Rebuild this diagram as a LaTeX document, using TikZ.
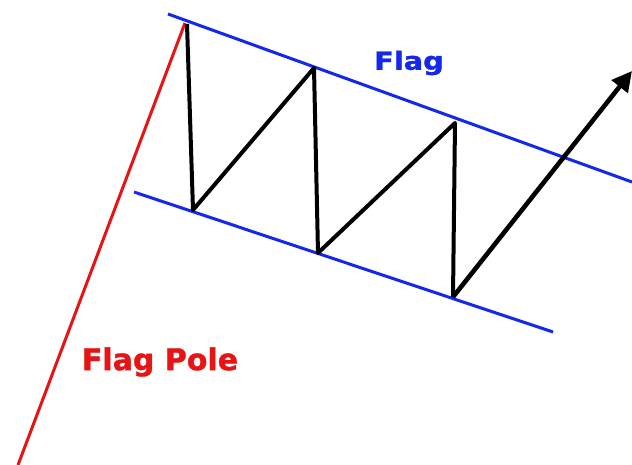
\documentclass[tikz,border=0pt]{standalone}
\usepackage{fontspec}
\newfontfamily\labelfont{DejaVu Sans Bold}[FakeBold=1.2]
\usetikzlibrary{arrows.meta}
\definecolor{flagblue}{RGB}{20,40,235}
\definecolor{polered}{RGB}{230,20,20}
\tikzset{
  trendline/.style={flagblue,line width=3pt},
  poleline/.style={polered,line width=3pt},
  swing/.style={black,line width=4pt,line join=round},
  tag/.style={inner sep=0pt}
}
\begin{document}
\begin{tikzpicture}[x=1pt,y=-1pt]
  \useasboundingbox (0,0) rectangle (632,465);

  % The pole: a steep rise.
  \coordinate (poleBase) at (18,465);
  \coordinate (poleTop) at (185,23);
  \draw[poleline] (poleBase) -- (poleTop);

  % The two channel lines of the flag.
  \coordinate (upperA) at (168,14);
  \coordinate (upperB) at (632,182);
  \coordinate (lowerA) at (134,192);
  \coordinate (lowerB) at (553,332);
  \draw[trendline] (upperA) -- (upperB);
  \draw[trendline] (lowerA) -- (lowerB);

  % Price swinging between the lines, then the breakout.
  \coordinate (s0) at (187,24);
  \coordinate (s1) at (193,210);
  \coordinate (s2) at (314,68);
  \coordinate (s3) at (318,253);
  \coordinate (s4) at (455,123);
  \coordinate (s5) at (453,297);
  \coordinate (out) at (632,71);
  \draw[swing] (s0) -- (s1) -- (s2) -- (s3) -- (s4) -- (s5);
  \draw[swing,line width=4.6pt,-{Triangle[length=20pt,width=20pt]}] (s5) -- (out);

  % Labels.
  \node[tag,text=flagblue,xscale=1.15,font=\labelfont\fontsize{25}{25}\selectfont] (flagLabel) at (409,63) {Flag};
  \node[tag,text=polered,xscale=1.0,font=\labelfont\fontsize{30}{30}\selectfont] (poleLabel) at (160,362) {Flag Pole};
\end{tikzpicture}
\end{document}
